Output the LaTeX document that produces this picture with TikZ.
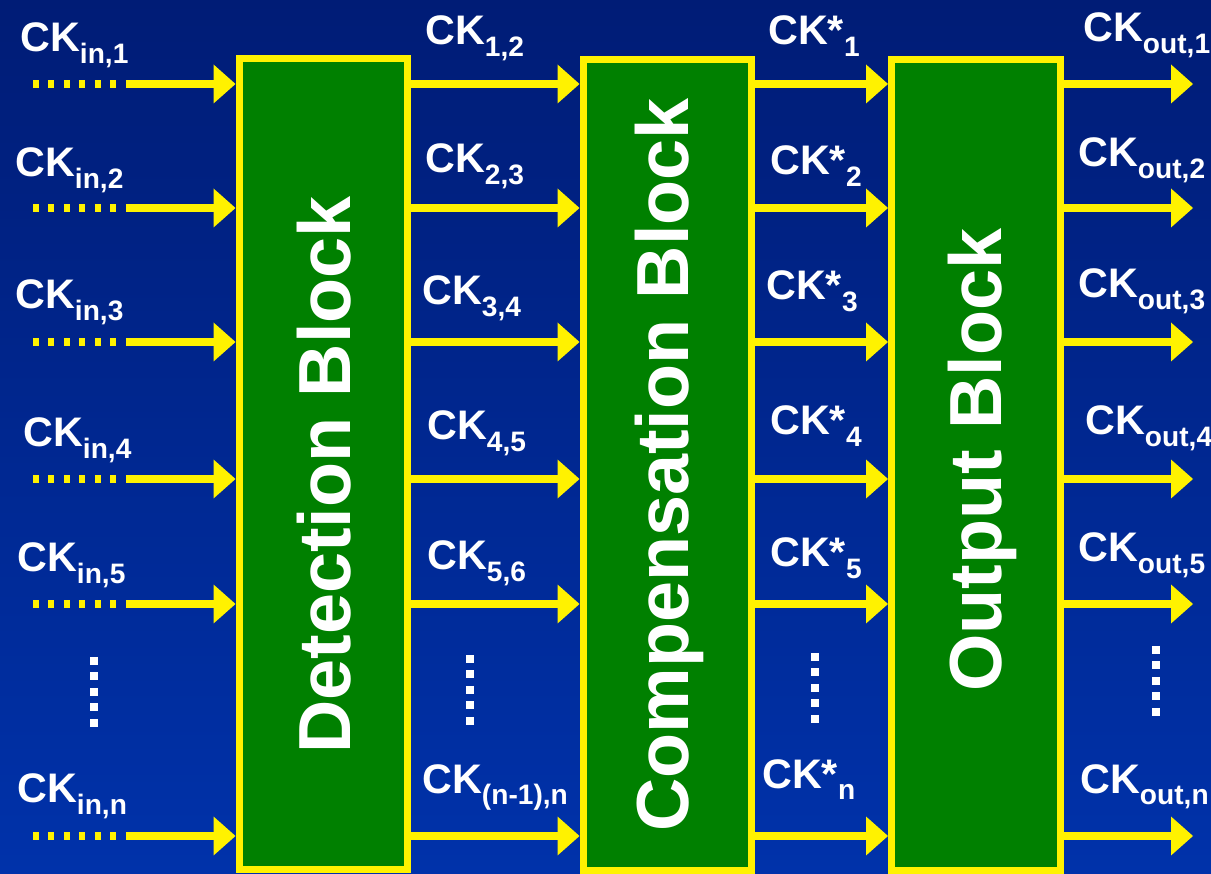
\documentclass[tikz,border=0pt]{standalone}
\usepackage{fontspec}
\setmainfont{Liberation Sans}
\usepackage{tikz}
\usetikzlibrary{arrows.meta,positioning,calc}
\definecolor{bgtop}{RGB}{0,28,118}
\definecolor{bgbottom}{RGB}{0,50,170}
\definecolor{blockgreen}{RGB}{0,128,0}
\newcommand{\cklabel}[2]{#1\raisebox{-6.8pt}{\fontsize{16pt}{16pt}\selectfont #2}}

\begin{document}
\begin{tikzpicture}[x=0.02cm, y=-0.02cm]
    % Define styles
    \tikzstyle{block} = [rectangle, draw=yellow, line width=0.14cm, fill=blockgreen, minimum width=3.38cm, minimum height=16.22cm, inner sep=0pt]
    \tikzstyle{blocktext} = [text=white, font=\fontsize{42pt}{42pt}\selectfont\bfseries, rotate=90, anchor=base, inner sep=0pt]
    \tikzstyle{sig} = [draw=yellow, line width=0.17cm, -{Triangle[length=0.44cm, width=0.78cm, line width=0pt]}]
    \tikzstyle{dotline} = [draw=yellow, line width=0.16cm, dash pattern=on 0.12cm off 0.19cm]
    \tikzstyle{vdots} = [draw=white, line width=0.16cm, dash pattern=on 0.16cm off 0.15cm]
    \tikzstyle{lbl} = [text=white, font=\fontsize{23.5pt}{23.5pt}\selectfont\bfseries, anchor=base west, inner sep=0pt]

    % Background
    \useasboundingbox (0,0) rectangle (1211,874);
    \shade[top color=bgtop, bottom color=bgbottom] (0,0) rectangle (1211,874);

    % Rows and free ends
    \coordinate (r1) at (0,84);
    \coordinate (r2) at (0,208);
    \coordinate (r3) at (0,342);
    \coordinate (r4) at (0,479);
    \coordinate (r5) at (0,604);
    \coordinate (rn) at (0,836);
    \coordinate (dotstart) at (33,0);
    \coordinate (dotend) at (127,0);
    \coordinate (outend) at (1193,0);

    % Blocks
    \node[block] (det) at (323.5,464) {};
    \node[block] (comp) at (667.5,465) {};
    \node[block] (outb) at (976,465) {};
    \node[blocktext] (dettext) at (350,475) {Detection Block};
    \node[blocktext] (comptext) at (688,465) {Compensation Block};
    \node[blocktext] (outtext) at (1001,460) {Output Block};

    % Inputs
    \draw[dotline] (dotstart |- r1) -- (dotend |- r1);
    \draw[dotline] (dotstart |- r2) -- (dotend |- r2);
    \draw[dotline] (dotstart |- r3) -- (dotend |- r3);
    \draw[dotline] (dotstart |- r4) -- (dotend |- r4);
    \draw[dotline] (dotstart |- r5) -- (dotend |- r5);
    \draw[dotline] (dotstart |- rn) -- (dotend |- rn);
    \draw[sig] (dotend |- r1) -- (det.west |- r1);
    \draw[sig] (dotend |- r2) -- (det.west |- r2);
    \draw[sig] (dotend |- r3) -- (det.west |- r3);
    \draw[sig] (dotend |- r4) -- (det.west |- r4);
    \draw[sig] (dotend |- r5) -- (det.west |- r5);
    \draw[sig] (dotend |- rn) -- (det.west |- rn);

    % Detection to compensation
    \draw[sig] (det.east |- r1) -- (comp.west |- r1);
    \draw[sig] (det.east |- r2) -- (comp.west |- r2);
    \draw[sig] (det.east |- r3) -- (comp.west |- r3);
    \draw[sig] (det.east |- r4) -- (comp.west |- r4);
    \draw[sig] (det.east |- r5) -- (comp.west |- r5);
    \draw[sig] (det.east |- rn) -- (comp.west |- rn);

    % Compensation to output
    \draw[sig] (comp.east |- r1) -- (outb.west |- r1);
    \draw[sig] (comp.east |- r2) -- (outb.west |- r2);
    \draw[sig] (comp.east |- r3) -- (outb.west |- r3);
    \draw[sig] (comp.east |- r4) -- (outb.west |- r4);
    \draw[sig] (comp.east |- r5) -- (outb.west |- r5);
    \draw[sig] (comp.east |- rn) -- (outb.west |- rn);

    % Outputs
    \draw[sig] (outb.east |- r1) -- (outend |- r1);
    \draw[sig] (outb.east |- r2) -- (outend |- r2);
    \draw[sig] (outb.east |- r3) -- (outend |- r3);
    \draw[sig] (outb.east |- r4) -- (outend |- r4);
    \draw[sig] (outb.east |- r5) -- (outend |- r5);
    \draw[sig] (outb.east |- rn) -- (outend |- rn);

    % Labels
    \node[lbl] (lin1) at (20,52) {\cklabel{CK}{in,1}};
    \node[lbl] (lin2) at (15,177) {\cklabel{CK}{in,2}};
    \node[lbl] (lin3) at (15,309) {\cklabel{CK}{in,3}};
    \node[lbl] (lin4) at (23,447) {\cklabel{CK}{in,4}};
    \node[lbl] (lin5) at (17,572) {\cklabel{CK}{in,5}};
    \node[lbl] (linn) at (17,803) {\cklabel{CK}{in,n}};

    \node[lbl] (lck1) at (425,45) {\cklabel{CK}{1,2}};
    \node[lbl] (lck2) at (425,173) {\cklabel{CK}{2,3}};
    \node[lbl] (lck3) at (422,305) {\cklabel{CK}{3,4}};
    \node[lbl] (lck4) at (427,440) {\cklabel{CK}{4,5}};
    \node[lbl] (lck5) at (427,570) {\cklabel{CK}{5,6}};
    \node[lbl] (lckn) at (422,793) {\cklabel{CK}{(n-1),n}};

    \node[lbl] (lst1) at (768,45) {\cklabel{CK*}{1}};
    \node[lbl] (lst2) at (770,175) {\cklabel{CK*}{2}};
    \node[lbl] (lst3) at (766,300) {\cklabel{CK*}{3}};
    \node[lbl] (lst4) at (770,435) {\cklabel{CK*}{4}};
    \node[lbl] (lst5) at (770,567) {\cklabel{CK*}{5}};
    \node[lbl] (lstn) at (762,788) {\cklabel{CK*}{n}};

    \node[lbl] (lout1) at (1083,42) {\cklabel{CK}{out,1}};
    \node[lbl] (lout2) at (1078,167) {\cklabel{CK}{out,2}};
    \node[lbl] (lout3) at (1078,298) {\cklabel{CK}{out,3}};
    \node[lbl] (lout4) at (1085,435) {\cklabel{CK}{out,4}};
    \node[lbl] (lout5) at (1078,562) {\cklabel{CK}{out,5}};
    \node[lbl] (loutn) at (1080,793) {\cklabel{CK}{out,n}};

    % Vertical dots
    \draw[vdots] (94,657) -- (94,727);
    \draw[vdots] (470,655) -- (470,725);
    \draw[vdots] (815,653) -- (815,723);
    \draw[vdots] (1156,646) -- (1156,716);

\end{tikzpicture}
\end{document}
